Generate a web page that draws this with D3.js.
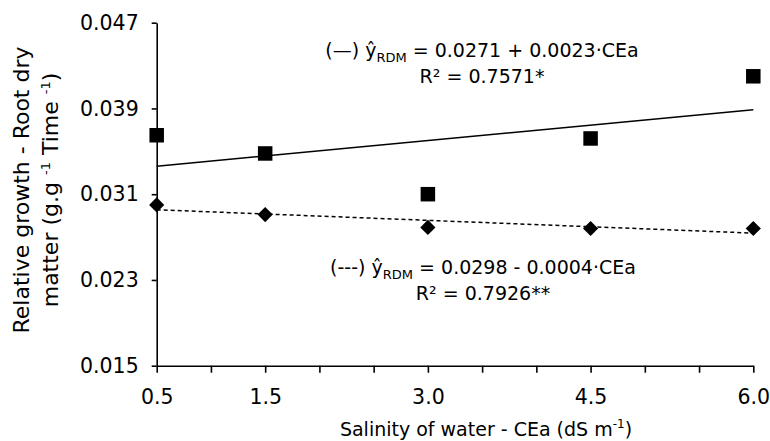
<!DOCTYPE html>
<html>
<head>
<meta charset="utf-8">
<script src="https://cdn.jsdelivr.net/npm/d3@7"></script>
<style>
  body { margin: 0; background: #fff; }
  svg { display: block; font-family: "DejaVu Sans", sans-serif; }
</style>
</head>
<body>
<script>
// salinity levels (dS m-1)
const salinity = [0.5, 1.5, 3.0, 4.5, 6.0];
// relative growth, root dry matter
const seriesSolid = [0.0365, 0.0348, 0.0310, 0.0362, 0.0420];   // squares
const seriesDashed = [0.0300, 0.0291, 0.0279, 0.0278, 0.0278];  // diamonds
const yTicks = [0.015, 0.023, 0.031, 0.039, 0.047];
const xTicks = [0.5, 1.0, 1.5, 2.0, 2.5, 3.0, 3.5, 4.0, 4.5, 5.0, 5.5, 6.0];
const xTickLabels = [0.5, 1.5, 3.0, 4.5, 6.0];

const width = 770, height = 441;
const margin = { left: 156.7, right: 16.7, top: 22.7, bottom: 75.3 };

const svg = d3.select('body').append('svg')
  .attr('width', width).attr('height', height);

const x = d3.scaleLinear().domain([0.5, 6.0]).range([margin.left, width - margin.right]);
const y = d3.scaleLinear().domain([0.015, 0.047]).range([height - margin.bottom, margin.top]);

// least squares trendline, like the spreadsheet does
function fit(xs, ys) {
  const mx = d3.mean(xs), my = d3.mean(ys);
  let sxy = 0, sxx = 0;
  xs.forEach((v, i) => { sxy += (v - mx) * (ys[i] - my); sxx += (v - mx) ** 2; });
  const b = sxy / sxx;
  return v => my + b * (v - mx);
}

// axes
const yAxis = svg.append('g')
  .attr('transform', `translate(${margin.left},0)`)
  .call(d3.axisLeft(y).tickValues(yTicks).tickFormat(d3.format('.3f'))
    .tickSize(5).tickSizeOuter(0).tickPadding(13));

const xAxis = svg.append('g')
  .attr('transform', `translate(0,${height - margin.bottom})`)
  .call(d3.axisBottom(x).tickValues(xTicks)
    .tickFormat(d => xTickLabels.includes(d) ? d3.format('.1f')(d) : '')
    .tickSize(7).tickSizeOuter(0).tickPadding(17));

[xAxis, yAxis].forEach(g => {
  g.selectAll('.domain, line').attr('stroke', '#000').attr('stroke-width', 1.6);
  g.selectAll('text').attr('font-size', 20.5).attr('fill', '#000')
    .attr('font-family', '"DejaVu Sans", sans-serif');
});

// trendlines
const lineGen = d3.line().x(d => x(d[0])).y(d => y(d[1]));
const fSolid = fit(salinity, seriesSolid);
const fDashed = fit(salinity, seriesDashed);
const ends = [salinity[0], salinity[salinity.length - 1]];

svg.append('path')
  .attr('d', lineGen(ends.map(v => [v, fSolid(v)])))
  .attr('fill', 'none').attr('stroke', '#000').attr('stroke-width', 1.5);

svg.append('path')
  .attr('d', lineGen(ends.map(v => [v, fDashed(v)])))
  .attr('fill', 'none').attr('stroke', '#000').attr('stroke-width', 1.5)
  .attr('stroke-dasharray', '4,3');

// markers
svg.selectAll('rect.sq')
  .data(salinity.map((v, i) => [v, seriesSolid[i]]))
  .enter().append('rect')
  .attr('class', 'sq')
  .attr('x', d => x(d[0]) - 7.25).attr('y', d => y(d[1]) - 7.25)
  .attr('width', 14.5).attr('height', 14.5)
  .attr('fill', '#000');

svg.selectAll('path.dm')
  .data(salinity.map((v, i) => [v, seriesDashed[i]]))
  .enter().append('path')
  .attr('class', 'dm')
  .attr('d', d3.symbol().type(d3.symbolSquare).size(115))
  .attr('transform', d => `translate(${x(d[0])},${y(d[1])}) rotate(45)`)
  .attr('fill', '#000');

// equations
function equation(cx, yb, dash, body, r2) {
  const t = svg.append('text')
    .attr('x', cx).attr('y', yb)
    .attr('text-anchor', 'middle').attr('font-size', 19).attr('fill', '#000');
  t.append('tspan').text(`(${dash}) ŷ`);
  t.append('tspan').attr('font-size', 13).attr('dy', 5).text('RDM');
  t.append('tspan').attr('dy', -5).text(` = ${body}`);
  svg.append('text')
    .attr('x', cx).attr('y', yb + 26)
    .attr('text-anchor', 'middle').attr('font-size', 19).attr('fill', '#000')
    .text(r2);
}
equation(482, 57, '—', '0.0271 + 0.0023·CEa', 'R² = 0.7571*');
equation(483, 274, '---', '0.0298 - 0.0004·CEa', 'R² = 0.7926**');

// axis titles
const xt = svg.append('text')
  .attr('x', 486).attr('y', 436)
  .attr('text-anchor', 'middle').attr('font-size', 19).attr('fill', '#000');
xt.append('tspan').text('Salinity of water - CEa (dS m');
xt.append('tspan').attr('font-size', 12).attr('dy', -8).text('-1');
xt.append('tspan').attr('dy', 8).text(')');

const yt = svg.append('g').attr('transform', 'translate(0,190) rotate(-90)');
yt.append('text')
  .attr('x', 0).attr('y', 29)
  .attr('text-anchor', 'middle').attr('font-size', 22).attr('fill', '#000')
  .text('Relative growth - Root dry');
const yt2 = yt.append('text')
  .attr('x', 0).attr('y', 58)
  .attr('text-anchor', 'middle').attr('font-size', 22).attr('fill', '#000');
yt2.append('tspan').text('matter (g.g ');
yt2.append('tspan').attr('font-size', 13).attr('dy', -8).text('-1');
yt2.append('tspan').attr('dy', 8).text(' Time ');
yt2.append('tspan').attr('font-size', 13).attr('dy', -8).text('-1');
yt2.append('tspan').attr('dy', 8).text(')');
</script>
</body>
</html>
